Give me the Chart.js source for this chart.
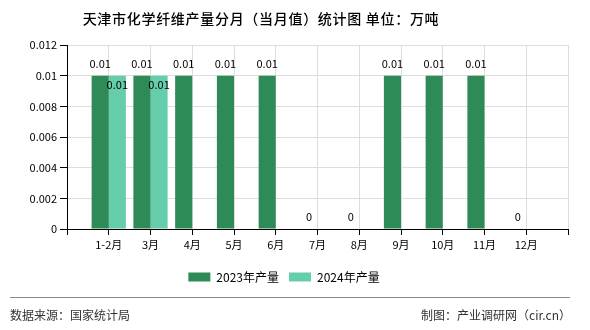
<!DOCTYPE html>
<html>
<head>
<meta charset="utf-8">
<script src="https://cdn.jsdelivr.net/npm/chart.js@4"></script>
<style>
  body { margin: 0; background: #fff; font-family: "Noto Sans CJK SC", sans-serif; }
  #wrap { position: relative; width: 590px; height: 330px; overflow: hidden; }
  #chart { position: absolute; left: 0; top: 0; }
  .title { position: absolute; left: 0; width: 522px; top: 8px; text-align: center; font-size: 14px; letter-spacing: 0.7px; font-weight: 500; color: #000; white-space: nowrap; }
  .rule { position: absolute; left: 10px; width: 560px; top: 297px; height: 0; border-top: 1px solid #888; }
  .foot { position: absolute; top: 306px; font-size: 12px; color: #333; white-space: nowrap; }
</style>
</head>
<body>
<div id="wrap">
  <canvas id="chart" width="590" height="330"></canvas>
  <div class="title">天津市化学纤维产量分月（当月值）统计图 单位：万吨</div>
  <div class="rule"></div>
  <div class="foot" style="left:10px">数据来源：国家统计局</div>
  <div class="foot" style="right:19px">制图：产业调研网（cir.cn）</div>
</div>
<script>
// Months and monthly output (10k tonnes)
const months = ['1-2月', '3月', '4月', '5月', '6月', '7月', '8月', '9月', '10月', '11月', '12月'];
const output_2023 = [0.01, 0.01, 0.01, 0.01, 0.01, 0, 0, 0.01, 0.01, 0.01, 0];
const output_2024 = [0.01, 0.01, null, null, null, null, null, null, null, null, null];
const y_ticks = [0, 0.002, 0.004, 0.006, 0.008, 0.01, 0.012];

// empty slot at each end so the months sit on the grid lines
const labels = [''].concat(months, ['']);
const pad = arr => [null].concat(arr, [null]);

const tickFont = { family: 'Noto Sans CJK SC', size: 11 };

// value labels: 2023 above the bar top, 2024 just below it
const valueLabels = {
  id: 'valueLabels',
  afterDatasetsDraw(chart) {
    const ctx = chart.ctx;
    ctx.save();
    ctx.font = '11px "Noto Sans CJK SC"';
    ctx.fillStyle = '#000';
    ctx.textAlign = 'center';
    ctx.textBaseline = 'middle';
    chart.data.datasets.forEach((ds, i) => {
      chart.getDatasetMeta(i).data.forEach((bar, j) => {
        const v = ds.data[j];
        if (v === null || v === undefined) return;
        const y = i === 0 ? bar.y - 12 : bar.y + 9;
        ctx.fillText(String(v), bar.x, y);
      });
    });
    ctx.restore();
  }
};

new Chart(document.getElementById('chart'), {
  type: 'bar',
  data: {
    labels: labels,
    datasets: [
      {
        label: '2023年产量',
        data: pad(output_2023),
        backgroundColor: '#2e8b57',
        barPercentage: 1,
        categoryPercentage: 0.82
      },
      {
        label: '2024年产量',
        data: pad(output_2024),
        backgroundColor: '#66cdaa',
        barPercentage: 1,
        categoryPercentage: 0.82
      }
    ]
  },
  options: {
    responsive: false,
    animation: false,
    layout: { padding: { left: 0, right: 22, top: 45, bottom: 37 } },
    plugins: {
      title: { display: false },
      tooltip: { enabled: false },
      legend: {
        position: 'bottom',
        labels: {
          boxWidth: 22,
          boxHeight: 9,
          padding: 10,
          color: '#000',
          font: { family: 'Noto Sans CJK SC', size: 12 }
        }
      }
    },
    scales: {
      x: {
        offset: false,
        grid: { display: true, color: '#ddd', tickColor: '#000', tickLength: 6, offset: false },
        border: { color: '#000' },
        ticks: { color: '#000', font: tickFont, padding: 3, maxRotation: 0, autoSkip: false },
        afterFit(scale) { scale.height = 32; }
      },
      y: {
        min: 0,
        max: 0.012,
        grid: { color: '#ddd', tickColor: '#000', tickLength: 7 },
        border: { color: '#000' },
        afterBuildTicks(scale) { scale.ticks = y_ticks.map(v => ({ value: v })); },
        ticks: {
          color: '#000',
          font: tickFont,
          padding: 3,
          callback: v => String(+v.toFixed(3))
        },
        afterFit(scale) { scale.width = 67; }
      }
    }
  },
  plugins: [valueLabels]
});
</script>
</body>
</html>
